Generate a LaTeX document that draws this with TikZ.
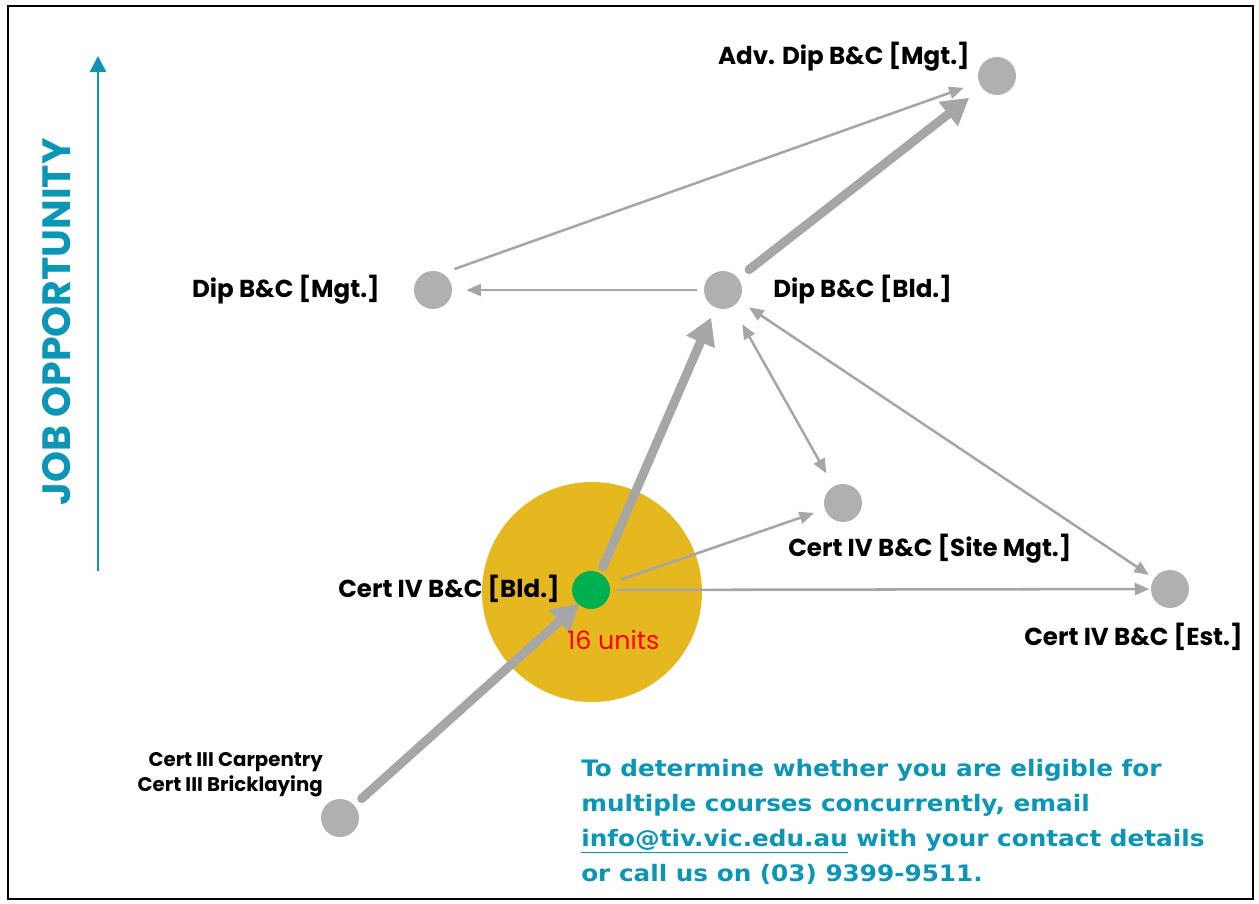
\documentclass[tikz,border=0pt]{standalone}
\usepackage{fontspec}
\setmainfont{Poppins}
\newfontfamily\notefont[FakeStretch=1.09]{DejaVu Sans}
\usetikzlibrary{arrows.meta}
\definecolor{tealc}{RGB}{10,150,180}
\definecolor{dotgray}{RGB}{176,176,176}
\definecolor{arrgray}{RGB}{166,166,166}
\definecolor{goldc}{RGB}{230,184,32}
\definecolor{greenc}{RGB}{0,176,80}
\definecolor{redc}{RGB}{255,0,0}
\tikzset{
  dot/.style={circle, fill=dotgray, minimum size=28.5pt, inner sep=0pt},
  thinarr/.style={draw=arrgray, line width=1.9pt, -{Triangle[length=11pt,width=9pt]}},
  thinboth/.style={draw=arrgray, line width=1.9pt, {Triangle[length=11pt,width=9pt]}-{Triangle[length=11pt,width=9pt]}},
  thickarr/.style={draw=arrgray, line width=6.75pt, {Round Cap[]}-{Triangle[length=20pt,width=22pt]}},
  lbl/.style={font=\fontsize{18.4}{21}\selectfont\bfseries, inner sep=0pt},
  smalllbl/.style={font=\fontsize{14.8}{17}\selectfont\bfseries, inner sep=0pt},
  note/.style={font=\notefont\fontsize{17}{20}\selectfont\bfseries, text=tealc, inner sep=0pt}
}
\begin{document}
\begin{tikzpicture}[x=0.75pt,y=-0.75pt]
\useasboundingbox (0,0) rectangle (1259,903);
\draw[line width=1.2pt] (8,6) rectangle (1253,899);

% axis
\coordinate (ax1) at (98,571);
\coordinate (ax2) at (98,56);
\draw[draw=tealc, line width=2pt, -{Triangle[length=12pt,width=12pt]}] (ax1) -- (ax2);
\node[font=\fontsize{29.6}{34}\selectfont\bfseries, text=tealc, rotate=90, inner sep=0pt] (job) at (57,322) {JOB OPPORTUNITY};

% halo and nodes
\node[circle, fill=goldc, minimum size=165pt, inner sep=0pt] (halo) at (592,592) {};
\node[dot] (adv) at (997,76) {};
\node[dot] (dm) at (433,290) {};
\node[dot] (db) at (723,290) {};
\node[dot] (sm) at (843,503) {};
\node[dot] (est) at (1170,589) {};
\node[dot] (c3) at (340,818) {};

% thin arrows
\draw[thinarr, shorten <=17pt, shorten >=12pt] ([yshift=10pt]dm.center) -- (adv);
\draw[thinarr, shorten <=5pt, shorten >=10.5pt] (db) -- (dm);
\draw[thinboth, shorten <=15pt, shorten >=11pt] (db) -- (sm);
\draw[thinboth, shorten <=9pt, shorten >=4.5pt] (db) -- (est);

% thick arrows
\draw[thickarr, shorten <=4pt, shorten >=13pt] (c3) -- (halo.center);
\draw[thickarr, shorten <=17pt, shorten >=8pt] (halo.center) -- (db);
\draw[thickarr, shorten <=7pt, shorten >=12pt] (db) -- (adv);

\node[circle, fill=greenc, minimum size=28.5pt, inner sep=0pt] (cb) at (591,590) {};
\draw[thinarr, shorten <=9.5pt, shorten >=8.5pt] (cb) -- (sm);
\draw[thinarr, shorten <=5pt, shorten >=1pt] (cb) -- (est);

% labels
\node[lbl, anchor=base east] (ladv) at (970,64) {Adv. Dip B\&C [Mgt.]};
\node[lbl, anchor=base east] (ldm) at (380,297) {Dip B\&C [Mgt.]};
\node[lbl, anchor=base west] (ldb) at (773,297) {Dip B\&C [Bld.]};
\node[lbl, anchor=base west] (lsm) at (788,556) {Cert IV B\&C [Site Mgt.]};
\node[lbl, anchor=base west] (lest) at (1024,645) {Cert IV B\&C [Est.]};
\node[lbl, anchor=base east] (lcb) at (560,597) {Cert IV B\&C [Bld.]};
\node[font=\fontsize{19}{22}\selectfont, text=redc, inner sep=0pt, anchor=base west] (units) at (567,649) {16 units};
\node[smalllbl, anchor=base east] (lc3a) at (323,766) {Cert III Carpentry};
\node[smalllbl, anchor=base east] (lc3b) at (323,791) {Cert III Bricklaying};

% note
\node[note, anchor=base west] (n1) at (581,776) {To determine whether you are eligible for};
\node[note, anchor=base west] (n2) at (581,811) {multiple courses concurrently, email};
\node[note, anchor=base west] (n3) at (581,846) {\underline{info@tiv.vic.edu.au} with your contact details};
\node[note, anchor=base west] (n4) at (581,881) {or call us on (03) 9399-9511.};
\end{tikzpicture}
\end{document}
